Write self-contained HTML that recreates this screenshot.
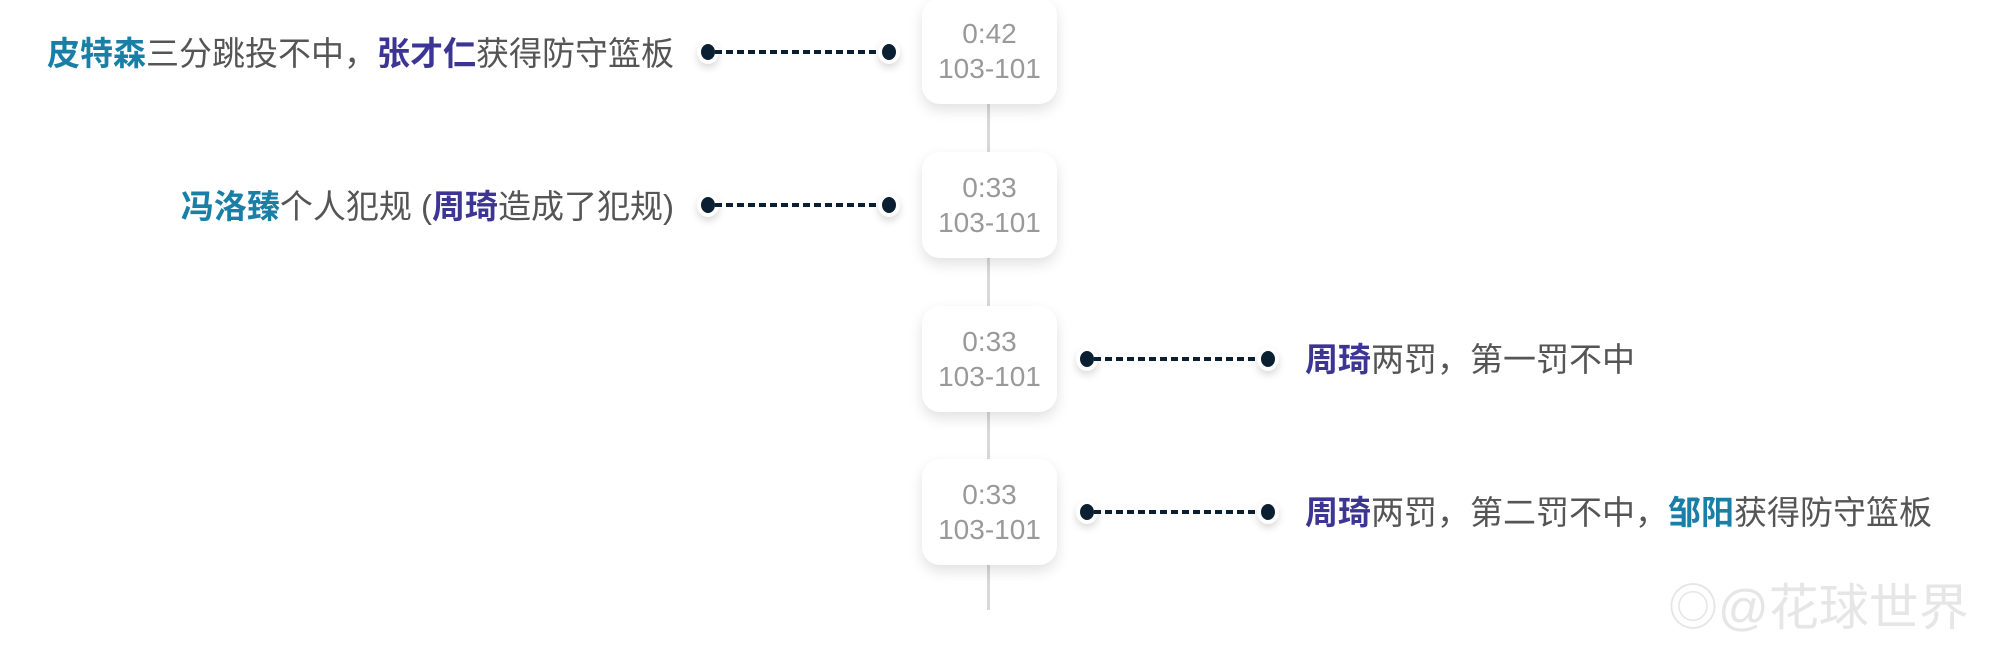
<!DOCTYPE html>
<html><head><meta charset="utf-8"><style>
html,body{margin:0;padding:0;background:#fff;}
body{width:2010px;height:645px;position:relative;overflow:hidden;font-family:"Liberation Sans","Noto Sans CJK SC",sans-serif;}
.vline{position:absolute;left:987px;top:0;width:3px;height:610px;background:#d8d8d8;}
.card{position:absolute;left:922px;width:135px;height:106px;background:#fff;border-radius:18px;box-shadow:0 6px 14px rgba(0,0,0,0.12);color:#999;font-size:28px;text-align:center;line-height:35px;box-sizing:border-box;padding-top:18px;}
.dot{position:absolute;width:14px;height:16px;border-radius:50%;background:#0b1f33;border:4px solid #fff;box-shadow:0 4px 8px rgba(0,0,0,0.15);}
.dash{position:absolute;height:4px;background:repeating-linear-gradient(90deg,#0b1f33 0 7px,transparent 7px 11px);}
.txt{position:absolute;font-size:33px;color:#555;white-space:nowrap;line-height:40px;}
.t{color:#1a7fa6;font-weight:bold;}
.p{color:#3d3594;font-weight:bold;}
.wm{position:absolute;left:1668px;top:568px;font-size:50px;color:#e6e6e6;white-space:nowrap;}
</style></head><body>
<div class="vline"></div>
<div class="card" style="top:-2px">0:42<br>103-101</div>
<div class="card" style="top:152px">0:33<br>103-101</div>
<div class="card" style="top:306px">0:33<br>103-101</div>
<div class="card" style="top:459px">0:33<br>103-101</div>

<div class="dot" style="left:697px;top:40px"></div>
<div class="dash" style="left:715px;top:50px;width:168px"></div>
<div class="dot" style="left:878px;top:40px"></div>
<div class="txt" style="right:1336px;top:34px"><span class="t">皮特森</span>三分跳投不中，<span class="p">张才仁</span>获得防守篮板</div>

<div class="dot" style="left:697px;top:193px"></div>
<div class="dash" style="left:715px;top:203px;width:168px"></div>
<div class="dot" style="left:878px;top:193px"></div>
<div class="txt" style="right:1336px;top:187px"><span class="t">冯洛臻</span>个人犯规 (<span class="p">周琦</span>造成了犯规)</div>

<div class="dot" style="left:1076px;top:347px"></div>
<div class="dash" style="left:1094px;top:357px;width:168px"></div>
<div class="dot" style="left:1257px;top:347px"></div>
<div class="txt" style="left:1305px;top:340px"><span class="p">周琦</span>两罚，第一罚不中</div>

<div class="dot" style="left:1076px;top:500px"></div>
<div class="dash" style="left:1094px;top:510px;width:168px"></div>
<div class="dot" style="left:1257px;top:500px"></div>
<div class="txt" style="left:1305px;top:493px"><span class="p">周琦</span>两罚，第二罚不中，<span class="t">邹阳</span>获得防守篮板</div>

<div class="wm">◎@花球世界</div>
</body></html>
